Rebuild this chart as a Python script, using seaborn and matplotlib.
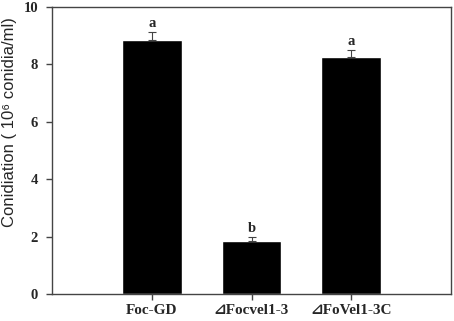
import pandas as pd
import seaborn as sns
import matplotlib.pyplot as plt

sns.set_style("ticks")
plt.rcParams["font.family"] = ["Liberation Serif", "DejaVu Sans", "DejaVu Serif"]

strains = ["Foc-GD", "\u22bfFocvel1-3", "\u22bfFoVel1-3C"]
conidia = [8.85, 1.85, 8.26]
errors = [0.28, 0.13, 0.24]
letters = ["a", "b", "a"]

data = pd.DataFrame({"strain": strains, "conidia": conidia})

fig = plt.figure(figsize=(4.54, 3.21), dpi=100)
ax = fig.add_axes([52 / 454, 27 / 321, 399 / 454, 287 / 321])

sns.barplot(x="strain", y="conidia", data=data, color="black",
            width=0.6, saturation=1, errorbar=None, ax=ax)

ax.errorbar(range(len(strains)), conidia, yerr=[[0] * 3, errors], fmt="none",
            ecolor="#444444", elinewidth=0.8, capsize=3, capthick=0.8)

for i, (v, e, t) in enumerate(zip(conidia, errors, letters)):
    ax.text(i, v + e + 0.06, t, ha="center", va="bottom", fontsize=10.5,
            fontweight="bold")

ax.set_xlim(-1, 3)
ax.set_ylim(0, 10)
ax.set_yticks([0, 2, 4, 6, 8, 10])
ax.set_xlabel("")
ax.set_ylabel("Conidiation ( 10\u2076 conidia/ml)", family=["Liberation Sans", "DejaVu Sans"],
              fontsize=12)
ax.yaxis.set_label_coords(-0.088, 0.6)

for s in ax.spines.values():
    s.set_visible(True)
    s.set_color("#444444")
    s.set_linewidth(1)
ax.tick_params(axis="both", direction="out", length=4, color="#444444", width=1)
ax.tick_params(axis="x", pad=3, labelsize=11)
ax.tick_params(axis="y", pad=6, labelsize=10.5)
for lab in ax.get_xticklabels() + ax.get_yticklabels():
    lab.set_fontweight("bold")

fig.savefig("out.png", dpi=100)
